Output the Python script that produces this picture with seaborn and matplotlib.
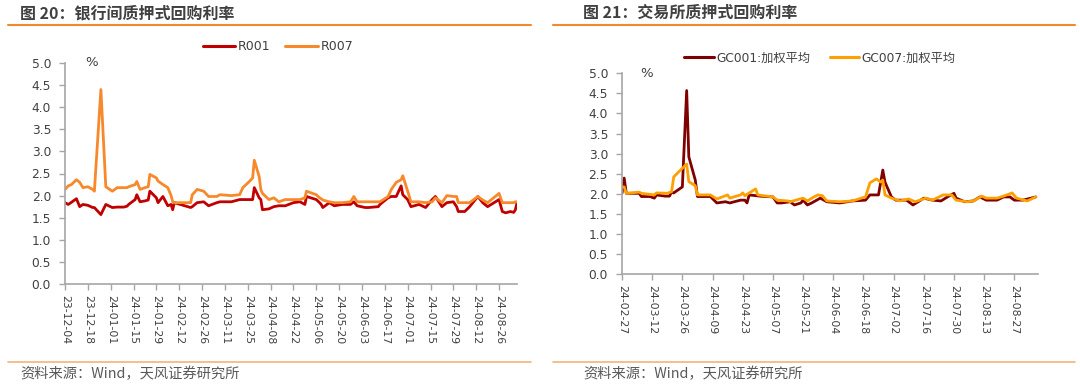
import pandas as pd
import seaborn as sns
import matplotlib.pyplot as plt
import matplotlib.dates as mdates
from matplotlib.lines import Line2D

# ---- data: interbank repo (left panel) ----
ib_dates = [
    "2023-12-04", "2023-12-06", "2023-12-08", "2023-12-11", "2023-12-13", "2023-12-15",
    "2023-12-18", "2023-12-21", "2023-12-22", "2023-12-26", "2023-12-29", "2024-01-02",
    "2024-01-05", "2024-01-09", "2024-01-11", "2024-01-12", "2024-01-16", "2024-01-17",
    "2024-01-19", "2024-01-22", "2024-01-24", "2024-01-25", "2024-01-29", "2024-01-30",
    "2024-02-02", "2024-02-05", "2024-02-07", "2024-02-08", "2024-02-09", "2024-02-19",
    "2024-02-20", "2024-02-23", "2024-02-27", "2024-03-01", "2024-03-06", "2024-03-08",
    "2024-03-15", "2024-03-20", "2024-03-22", "2024-03-26", "2024-03-28", "2024-03-29",
    "2024-04-01", "2024-04-02", "2024-04-03", "2024-04-07", "2024-04-10", "2024-04-13",
    "2024-04-17", "2024-04-22", "2024-04-26", "2024-04-29", "2024-04-30", "2024-05-06",
    "2024-05-08", "2024-05-09", "2024-05-10", "2024-05-14", "2024-05-17", "2024-05-22",
    "2024-05-27", "2024-05-29", "2024-05-31", "2024-06-05", "2024-06-07", "2024-06-13",
    "2024-06-14", "2024-06-19", "2024-06-21", "2024-06-24", "2024-06-27", "2024-06-28",
    "2024-07-01", "2024-07-03", "2024-07-08", "2024-07-12", "2024-07-16", "2024-07-18",
    "2024-07-22", "2024-07-25", "2024-07-29", "2024-07-31", "2024-08-01", "2024-08-05",
    "2024-08-08", "2024-08-13", "2024-08-16", "2024-08-19", "2024-08-26", "2024-08-28",
    "2024-08-30", "2024-09-02", "2024-09-04", "2024-09-05", "2024-09-06",
]
r001 = [
    1.84, 1.80, 1.85, 1.93, 1.75, 1.80,
    1.78, 1.73, 1.73, 1.57, 1.80, 1.73,
    1.74, 1.74, 1.76, 1.80, 1.91, 2.02,
    1.86, 1.88, 1.90, 2.10, 1.95, 1.84,
    1.98, 1.77, 1.80, 1.68, 1.84, 1.73,
    1.75, 1.84, 1.86, 1.77, 1.84, 1.86,
    1.86, 1.91, 1.91, 1.91, 1.91, 2.18,
    1.95, 1.91, 1.68, 1.70, 1.75, 1.77,
    1.77, 1.84, 1.86, 1.80, 1.98, 1.91,
    1.84, 1.80, 1.73, 1.84, 1.77, 1.80,
    1.80, 1.86, 1.77, 1.73, 1.73, 1.75,
    1.80, 1.95, 1.98, 1.98, 2.22, 2.02,
    1.91, 1.75, 1.80, 1.73, 1.91, 1.98,
    1.75, 1.84, 1.86, 1.75, 1.64, 1.64,
    1.75, 1.98, 1.84, 1.75, 1.91, 1.64,
    1.61, 1.64, 1.62, 1.68, 1.84,
]
r007 = [
    2.14, 2.22, 2.25, 2.36, 2.30, 2.18,
    2.20, 2.14, 2.10, 4.40, 2.20, 2.10,
    2.18, 2.18, 2.18, 2.20, 2.25, 2.32,
    2.14, 2.18, 2.20, 2.48, 2.40, 2.33,
    2.25, 2.18, 2.00, 1.86, 1.84, 1.84,
    2.02, 2.14, 2.10, 1.98, 1.98, 2.02,
    2.00, 2.02, 2.18, 2.32, 2.40, 2.80,
    2.43, 2.14, 2.05, 1.91, 1.95, 1.86,
    1.91, 1.91, 1.91, 1.95, 2.10, 2.02,
    1.95, 1.93, 1.90, 1.86, 1.84, 1.84,
    1.86, 1.98, 1.86, 1.86, 1.86, 1.86,
    1.86, 1.98, 2.14, 2.30, 2.36, 2.45,
    2.10, 1.86, 1.86, 1.84, 1.86, 1.95,
    1.84, 2.00, 1.98, 1.98, 1.84, 1.84,
    1.84, 1.98, 1.90, 1.84, 2.05, 1.84,
    1.84, 1.84, 1.84, 1.86, 1.86,
]

# ---- data: exchange repo (right panel) ----
gc001_dates = [
    "2024-02-27", "2024-02-28", "2024-02-29", "2024-03-06", "2024-03-07", "2024-03-11",
    "2024-03-13", "2024-03-14", "2024-03-18", "2024-03-20", "2024-03-21", "2024-03-22",
    "2024-03-26", "2024-03-28", "2024-03-29", "2024-04-01", "2024-04-02", "2024-04-08",
    "2024-04-11", "2024-04-15", "2024-04-17", "2024-04-22", "2024-04-24", "2024-04-25",
    "2024-04-26", "2024-05-01", "2024-05-07", "2024-05-09", "2024-05-11", "2024-05-15",
    "2024-05-17", "2024-05-20", "2024-05-21", "2024-05-23", "2024-05-25", "2024-05-29",
    "2024-06-01", "2024-06-07", "2024-06-13", "2024-06-19", "2024-06-21", "2024-06-25",
    "2024-06-27", "2024-06-28", "2024-07-01", "2024-07-03", "2024-07-08", "2024-07-11",
    "2024-07-14", "2024-07-16", "2024-07-20", "2024-07-24", "2024-07-27", "2024-07-30",
    "2024-07-31", "2024-08-04", "2024-08-08", "2024-08-11", "2024-08-14", "2024-08-19",
    "2024-08-22", "2024-08-25", "2024-08-27", "2024-08-31", "2024-09-06",
]
gc001 = [
    2.01, 2.39, 2.01, 2.01, 1.93, 1.93,
    1.89, 1.97, 1.94, 1.94, 2.04, 2.02,
    2.17, 4.57, 2.92, 2.34, 1.93, 1.93,
    1.77, 1.80, 1.77, 1.84, 1.84, 1.77,
    1.97, 1.94, 1.92, 1.77, 1.77, 1.80,
    1.72, 1.77, 1.84, 1.72, 1.77, 1.89,
    1.80, 1.77, 1.82, 1.84, 1.97, 1.97,
    2.59, 2.29, 1.92, 1.84, 1.84, 1.72,
    1.82, 1.89, 1.84, 1.82, 1.92, 2.01,
    1.89, 1.80, 1.82, 1.92, 1.84, 1.84,
    1.92, 1.92, 1.84, 1.84, 1.92,
]
gc007_dates = [
    "2024-02-27", "2024-02-28", "2024-02-29", "2024-03-06", "2024-03-07", "2024-03-13",
    "2024-03-14", "2024-03-19", "2024-03-21", "2024-03-22", "2024-03-28", "2024-03-29",
    "2024-04-01", "2024-04-02", "2024-04-08", "2024-04-11", "2024-04-16", "2024-04-17",
    "2024-04-22", "2024-04-23", "2024-04-24", "2024-04-29", "2024-04-30", "2024-05-07",
    "2024-05-09", "2024-05-14", "2024-05-15", "2024-05-21", "2024-05-23", "2024-05-26",
    "2024-05-28", "2024-05-30", "2024-06-01", "2024-06-07", "2024-06-13", "2024-06-17",
    "2024-06-19", "2024-06-21", "2024-06-24", "2024-06-26", "2024-06-27", "2024-06-28",
    "2024-07-01", "2024-07-05", "2024-07-09", "2024-07-12", "2024-07-17", "2024-07-20",
    "2024-07-25", "2024-07-29", "2024-07-31", "2024-08-05", "2024-08-08", "2024-08-12",
    "2024-08-14", "2024-08-19", "2024-08-22", "2024-08-26", "2024-08-28", "2024-09-02",
    "2024-09-06",
]
gc007 = [
    2.17, 2.17, 2.01, 2.04, 2.01, 1.97,
    2.02, 2.01, 2.05, 2.42, 2.74, 2.30,
    2.20, 1.97, 1.97, 1.87, 1.97, 1.89,
    1.97, 2.02, 1.95, 2.12, 1.97, 1.92,
    1.84, 1.82, 1.80, 1.89, 1.82, 1.92,
    1.97, 1.95, 1.82, 1.80, 1.82, 1.89,
    1.92, 2.27, 2.37, 2.29, 2.34, 1.97,
    1.89, 1.82, 1.87, 1.80, 1.89, 1.84,
    1.97, 1.97, 1.84, 1.80, 1.82, 1.94,
    1.89, 1.89, 1.94, 2.02, 1.89, 1.82,
    1.92,
]

ib_df = pd.DataFrame({"date": pd.to_datetime(ib_dates), "R001": r001, "R007": r007})
ib_long = ib_df.melt(id_vars="date", var_name="series", value_name="rate")
gc_long = pd.concat([
    pd.DataFrame({"date": pd.to_datetime(gc001_dates), "rate": gc001, "series": "GC001:加权平均"}),
    pd.DataFrame({"date": pd.to_datetime(gc007_dates), "rate": gc007, "series": "GC007:加权平均"}),
])

sns.set_style("white")
plt.rcParams['font.family'] = ['DejaVu Sans', 'Noto Sans CJK SC']

W, H = 1080, 387
fig = plt.figure(figsize=(W / 100, H / 100), dpi=100)

GRAY = "#A6A6A6"
TXT = "#404040"


def px_axes(x0, y_top, x1, y_bot):
    return fig.add_axes([x0 / W, 1 - y_bot / H, (x1 - x0) / W, (y_bot - y_top) / H])


def style_axes(ax, start, end):
    ax.set_xlim(pd.Timestamp(start), pd.Timestamp(end))
    ax.set_ylim(0, 5)
    ax.set_yticks([i * 0.5 for i in range(11)])
    ax.yaxis.set_major_formatter(plt.FuncFormatter(lambda v, p: f"{v:.1f}"))
    ticks = pd.date_range(start, end, freq="14D")
    ax.set_xticks(ticks)
    ax.xaxis.set_major_formatter(mdates.DateFormatter("%y-%m-%d"))
    for s in ("top", "right"):
        ax.spines[s].set_visible(False)
    for s in ("left", "bottom"):
        ax.spines[s].set_color(GRAY)
        ax.spines[s].set_linewidth(1.2)
    ax.tick_params(axis="both", direction="out", length=4, width=1, color=GRAY,
                   labelcolor=TXT, labelsize=8.8, left=True, bottom=True, pad=6)
    ax.tick_params(axis="x", labelsize=7.8, pad=4)
    for lab in ax.get_xticklabels():
        lab.set_rotation(-90)
        lab.set_ha("center")
        lab.set_va("top")
    ax.set_xlabel("")
    ax.set_ylabel("")
    ax.text(0.045, 1.0, "%", transform=ax.transAxes, fontsize=9.5, color=TXT,
            ha="left", va="center")


# left panel
ax1 = px_axes(65, 63, 517, 284)
sns.lineplot(data=ib_long, x="date", y="rate", hue="series", ax=ax1,
             palette={"R001": "#C00000", "R007": "#F7892B"}, linewidth=2.0)
style_axes(ax1, "2023-12-04", "2024-09-06")
ax1.get_legend().remove()
fig.legend(handles=[Line2D([], [], color="#C00000", lw=2.2), Line2D([], [], color="#F7892B", lw=2.2)],
           labels=["R001", "R007"], loc="center", bbox_to_anchor=(278 / W, 1 - 47 / H),
           ncol=2, frameon=False, fontsize=9, handlelength=2.6, columnspacing=1.2,
           handletextpad=0.2, labelcolor=TXT)

# right panel
ax2 = px_axes(622, 73.3, 1038, 274)
sns.lineplot(data=gc_long, x="date", y="rate", hue="series", ax=ax2,
             palette={"GC001:加权平均": "#800000", "GC007:加权平均": "#FFA000"}, linewidth=2.0)
style_axes(ax2, "2024-02-27", "2024-09-07")
ax2.get_legend().remove()
fig.legend(handles=[Line2D([], [], color="#800000", lw=2.2), Line2D([], [], color="#FFA000", lw=2.2)],
           labels=["GC001:加权平均", "GC007:加权平均"], loc="center",
           bbox_to_anchor=(820 / W, 1 - 58 / H), ncol=2, frameon=False, fontsize=8.8,
           handlelength=2.4, columnspacing=1.6, handletextpad=0.2, labelcolor=TXT)

# titles, rules and sources
for x, title in ((20, "图 20：银行间质押式回购利率"), (583, "图 21：交易所质押式回购利率")):
    fig.text(x / W, 1 - 13 / H, title, fontsize=11.5, fontweight="bold", color=TXT,
             family=["Noto Sans CJK SC"], ha="left", va="center")
    fig.text(x / W, 1 - 374 / H, "资料来源：Wind，天风证券研究所", fontsize=10.3, color="#595959",
             family=["Noto Sans CJK SC"], ha="left", va="center")

for x0, x1 in ((8, 531), (553, 1075)):
    fig.add_artist(Line2D([x0 / W, x1 / W], [1 - 25 / H, 1 - 25 / H], color="#F08A2C", lw=1.5))
    fig.add_artist(Line2D([x0 / W, x1 / W], [1 - 362 / H, 1 - 362 / H], color="#F6B27A", lw=1.2))

fig.savefig("out.png", dpi=100)
